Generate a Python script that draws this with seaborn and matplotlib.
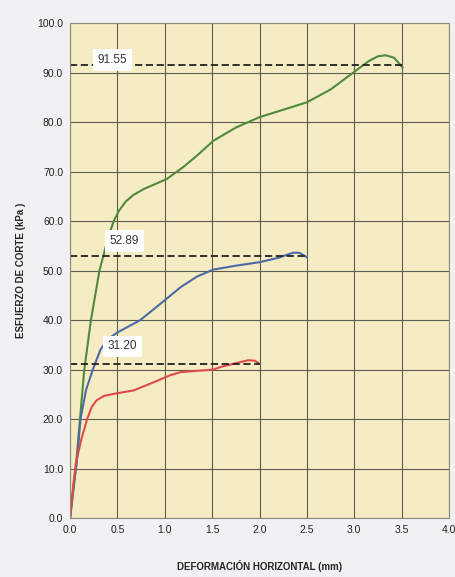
import numpy as np
import pandas as pd
import matplotlib
matplotlib.use("Agg")
import matplotlib.pyplot as plt
import seaborn as sns

# Curvas esfuerzo-deformación
x_verde = [0.0, 0.05, 0.10, 0.15, 0.22, 0.31, 0.35, 0.40, 0.46, 0.52, 0.59, 0.67, 0.78, 0.90, 1.02, 1.20, 1.35, 1.51, 1.75, 2.00, 2.25, 2.50, 2.75, 3.01, 3.15, 3.25, 3.33, 3.42, 3.51]
y_verde = [0.0, 8.0, 19.0, 30.0, 40.0, 50.0, 52.9, 56.5, 60.0, 62.2, 64.0, 65.3, 66.5, 67.5, 68.5, 71.0, 73.4, 76.2, 78.9, 81.0, 82.5, 84.0, 86.6, 90.3, 92.3, 93.3, 93.5, 93.0, 91.0]

x_azul = [0.0, 0.04, 0.07, 0.11, 0.17, 0.24, 0.32, 0.40, 0.50, 0.74, 0.96, 1.17, 1.34, 1.51, 1.75, 2.00, 2.20, 2.35, 2.42, 2.50]
y_azul = [0.0, 7.0, 11.0, 20.0, 26.0, 30.0, 34.0, 36.2, 37.5, 40.0, 43.4, 46.7, 48.8, 50.2, 51.0, 51.7, 52.6, 53.6, 53.6, 52.7]

x_rojo = [0.0, 0.03, 0.06, 0.12, 0.18, 0.23, 0.28, 0.36, 0.46, 0.67, 0.89, 1.06, 1.17, 1.30, 1.51, 1.60, 1.75, 1.88, 1.95, 1.99]
y_rojo = [0.0, 6.0, 11.0, 16.0, 20.0, 22.5, 23.8, 24.7, 25.1, 25.8, 27.5, 28.9, 29.5, 29.7, 30.0, 30.6, 31.3, 31.9, 31.8, 31.3]

# Esfuerzos máximos y su alcance horizontal
maximos = [91.55, 52.89, 31.20]
x_fin = [3.5, 2.5, 2.0]
etiquetas = ["91.55", "52.89", "31.20"]
pos_etiqueta = [(0.45, 92.6), (0.575, 56.0), (0.55, 34.7)]

colores = ["#4f8a3c", "#4c6aa6", "#e04a4a"]

sns.set_theme(style="whitegrid")
plt.rcParams["font.family"] = ["Liberation Sans", "DejaVu Sans"]

fig = plt.figure(figsize=(4.55, 5.77), dpi=100, facecolor="#f1f1f3")
ax = fig.add_axes([0.154, 0.102, 0.833, 0.858])
ax.set_facecolor("#f6ecc3")

for xs, ys, c in zip([x_verde, x_azul, x_rojo], [y_verde, y_azul, y_rojo], colores):
    df = pd.DataFrame({"x": xs, "y": ys})
    sns.lineplot(data=df, x="x", y="y", sort=False, color=c, linewidth=1.5, ax=ax)

for m, xf, t, (tx, ty) in zip(maximos, x_fin, etiquetas, pos_etiqueta):
    ax.plot([0, xf], [m, m], color="#222222", linestyle=(0, (4, 2)), linewidth=1.3)
    ax.text(tx, ty, t, fontsize=8.5, ha="center", va="center", color="#333333", zorder=5,
            bbox=dict(facecolor="white", edgecolor="none", pad=3.5))

ax.set_xlim(0, 4)
ax.set_ylim(0, 100)
ax.set_xticks(np.arange(0, 4.01, 0.5))
ax.set_yticks(np.arange(0, 100.1, 10))
ax.set_xticklabels([f"{v:.1f}" for v in np.arange(0, 4.01, 0.5)], fontsize=7.5)
ax.set_yticklabels([f"{v:.1f}" for v in np.arange(0, 100.1, 10)], fontsize=7.5)
ax.grid(True, color="#5c5c50", linewidth=0.8)
for s in ax.spines.values():
    s.set_color("#8a8a80")
    s.set_linewidth(0.8)
ax.tick_params(axis="both", length=3, color="#555555", pad=2, colors="#222222")
ax.set_xlabel("DEFORMACIÓN HORIZONTAL (mm)", fontsize=7, fontweight="bold", labelpad=18)
ax.set_ylabel("ESFUERZO DE CORTE (kPa )", fontsize=7, fontweight="bold", labelpad=8)

fig.savefig("out.png", dpi=100, facecolor=fig.get_facecolor())
